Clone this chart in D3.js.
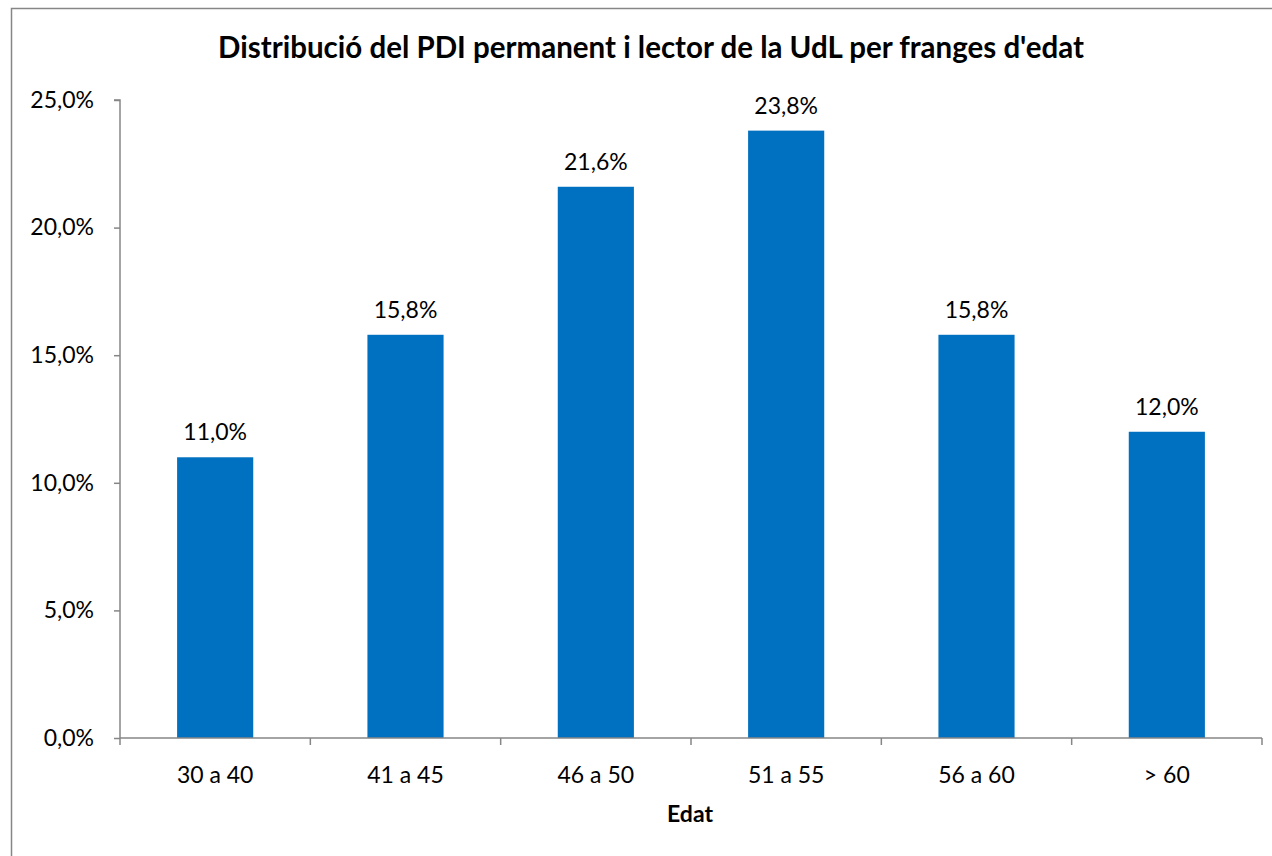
<!DOCTYPE html>
<html><head><meta charset="utf-8">
<script src="https://cdn.jsdelivr.net/npm/d3@7"></script>
<style>body{margin:0;background:#fff}svg{display:block;font-family:Lato,"Open Sans",sans-serif}</style>
</head><body>
<svg id="c" width="1272" height="856"></svg>
<script>
const categories = ["30 a 40","41 a 45","46 a 50","51 a 55","56 a 60","> 60"];
const values = [11.0,15.8,21.6,23.8,15.8,12.0];
const yTicks = [0,5,10,15,20,25];
const title = "Distribució del PDI permanent i lector de la UdL per franges d'edat";
const xTitle = "Edat";

(function(){
const svg = d3.select("#c");
const fmt = v => v.toFixed(1).replace(".", ",") + "%";
const FS = 23;
svg.append("rect").attr("x",11.5).attr("y",8.5).attr("width",1300).attr("height",900)
  .attr("fill","#fff").attr("stroke","#868686").attr("stroke-width",1.5);

const pl=120, pr=1262, pt=100, pb=738;
const x = d3.scaleBand().domain(categories).range([pl,pr]).paddingInner(0.6).paddingOuter(0.3);
const y = d3.scaleLinear().domain([0,25]).range([pb,pt]);

svg.append("text").attr("x",651).attr("y",58).attr("text-anchor","middle")
  .attr("font-size",29.5).attr("font-weight","bold").text(title);

const ya = svg.append("g").attr("transform",`translate(${pl},0)`)
  .call(d3.axisLeft(y).tickValues(yTicks).tickFormat(fmt).tickSize(6).tickPadding(20));
ya.select(".domain").attr("stroke","#868686").attr("stroke-width",1.5).attr("d",`M-6,${pt}H0V${pb}`);
ya.selectAll(".tick line").attr("stroke","#868686").attr("stroke-width",1.5);
ya.selectAll(".tick text").attr("font-size",FS).attr("fill","#000").attr("font-family","Lato,'Open Sans',sans-serif");

svg.selectAll(".bar").data(values).enter().append("rect")
  .attr("x",(d,i)=>x(categories[i])).attr("width",x.bandwidth())
  .attr("y",d=>y(d)).attr("height",d=>pb-y(d)).attr("fill","#0070C0");

svg.selectAll(".lbl").data(values).enter().append("text")
  .attr("x",(d,i)=>x(categories[i])+x.bandwidth()/2).attr("y",d=>y(d)-17)
  .attr("text-anchor","middle").attr("font-size",FS).text(fmt);

const step = (pr-pl)/categories.length;
const xa = svg.append("g");
xa.append("line").attr("x1",pl).attr("x2",pr).attr("y1",pb).attr("y2",pb)
  .attr("stroke","#868686").attr("stroke-width",1.5);
xa.selectAll(".t").data(d3.range(categories.length+1)).enter().append("line")
  .attr("x1",i=>pl+i*step).attr("x2",i=>pl+i*step).attr("y1",pb).attr("y2",pb+7)
  .attr("stroke","#868686").attr("stroke-width",1.5);
xa.selectAll(".xl").data(categories).enter().append("text")
  .attr("x",d=>x(d)+x.bandwidth()/2).attr("y",783).attr("text-anchor","middle")
  .attr("font-size",FS).text(d=>d);

svg.append("text").attr("x",690).attr("y",822).attr("text-anchor","middle")
  .attr("font-size",FS).attr("font-weight","bold").text(xTitle);
})();
</script>
</body></html>
